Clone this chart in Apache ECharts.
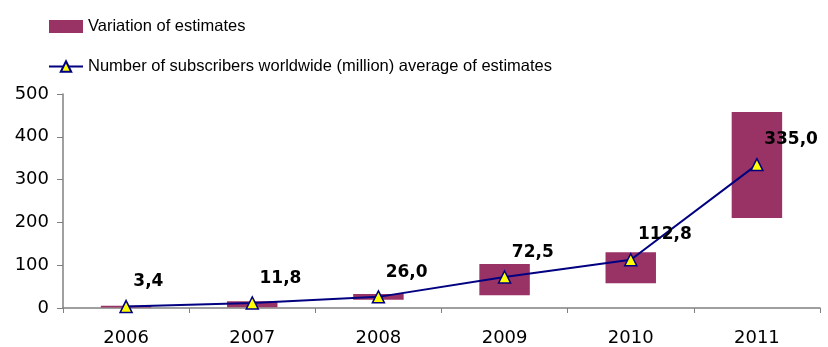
<!DOCTYPE html>
<html><head><meta charset="utf-8">
<script src="https://cdn.jsdelivr.net/npm/echarts@6/dist/echarts.min.js"></script>
<style>html,body{margin:0;padding:0;background:#fff}#c{width:828px;height:347px}</style>
</head><body><div id="c"></div>
<script>
var categories = ['2006','2007','2008','2009','2010','2011'];
var estimateLow = [1, 2, 19, 30, 58, 210];
var estimateHigh = [5, 16, 33, 103, 130, 458];
var averageSubscribers = [3.4, 11.8, 26.0, 72.5, 112.8, 335.0];
var yTicks = [0, 100, 200, 300, 400, 500];

var rangeSize = estimateHigh.map(function(h, i){ return h - estimateLow[i]; });
var FONT = 'Liberation Sans, Arial, sans-serif';
var NUMFONT = '"DejaVu Sans", Arial, sans-serif';
var barName = 'Variation of estimates';
var lineName = 'Number of subscribers worldwide (million) average of estimates';

var chart = echarts.init(document.getElementById('c'), null, {renderer:'canvas'});
chart.setOption({
  animation: false,
  textStyle: {fontFamily: FONT},
  legend: {
    orient: 'vertical', left: 43, top: 13,
    itemWidth: 34, itemHeight: 13, itemGap: 23,
    data: [{name: barName, icon: 'rect'}, {name: lineName}],
    textStyle: {fontFamily: FONT, fontSize: 16.5, color: '#000'}
  },
  grid: {left: 63, right: 8, top: 94, bottom: 39, containLabel: false},
  xAxis: {
    type: 'category', data: categories,
    axisLine: {lineStyle: {color: '#808080', width: 1.5}},
    axisTick: {show: true, length: 5, lineStyle: {color: '#808080'}},
    axisLabel: {fontSize: 18, color: '#000', margin: 21, fontFamily: NUMFONT}
  },
  yAxis: {
    type: 'value', min: 0, max: yTicks[yTicks.length-1], interval: yTicks[1]-yTicks[0],
    splitLine: {show: false},
    axisLine: {show: true, lineStyle: {color: '#808080', width: 1.5}},
    axisTick: {show: true, length: 6, lineStyle: {color: '#808080'}},
    axisLabel: {fontSize: 18, color: '#000', margin: 14, fontFamily: NUMFONT}
  },
  series: [
    {
      name: 'base', type: 'bar', stack: 'r', data: estimateLow, barWidth: '40%',
      itemStyle: {color: 'rgba(0,0,0,0)'}, silent: true, legendHoverLink: false
    },
    {
      name: barName, type: 'bar', stack: 'r', data: rangeSize, barWidth: '40%',
      itemStyle: {color: '#993366'}
    },
    {
      name: lineName, type: 'line',
      data: averageSubscribers, symbol: 'triangle', symbolSize: 12, showAllSymbol: true,
      lineStyle: {color: '#000080', width: 2},
      itemStyle: {color: '#ffff00', borderColor: '#000080', borderWidth: 1.5},
      label: {
        show: true, position: [14, -18], align: 'left', verticalAlign: 'middle',
        fontSize: 17, fontWeight: 'bold', color: '#000', fontFamily: NUMFONT,
        formatter: function(p){ return p.value.toFixed(1).replace('.', ','); }
      },
      z: 5
    }
  ]
});
</script>
</body></html>
